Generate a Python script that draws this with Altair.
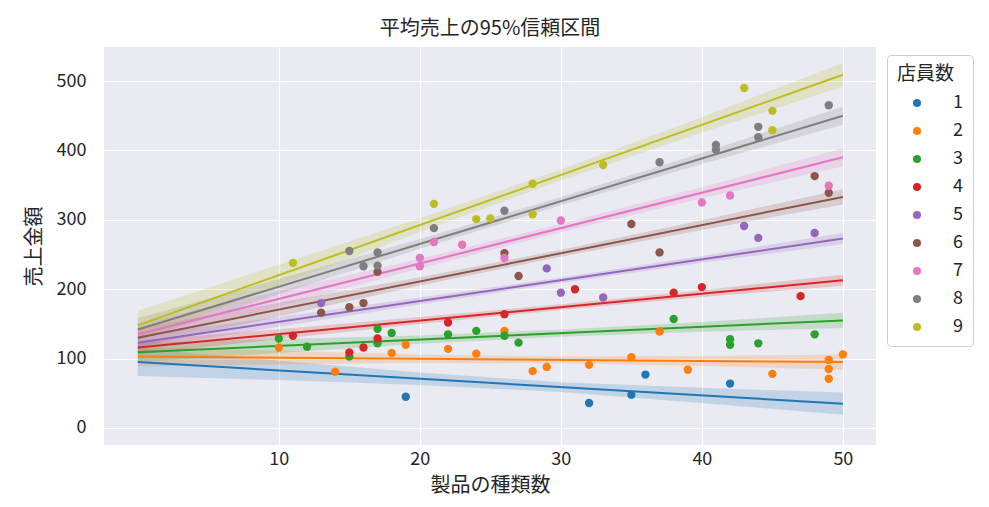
import altair as alt
import pandas as pd

FONT = "Noto Sans CJK JP"
TEXT = "#262626"

staff = [1, 2, 3, 4, 5, 6, 7, 8, 9]
colors = ["#1f77b4", "#ff7f0e", "#2ca02c", "#d62728", "#9467bd",
          "#8c564b", "#e377c2", "#7f7f7f", "#bcbd22"]

# scatter points (product kinds, sales) per staff count
x_by_staff = [
    [19, 32, 35, 36, 42],
    [10, 14, 18, 19, 22, 24, 26, 28, 29, 32, 35, 37, 39, 45, 49, 49, 49, 50],
    [10, 12, 15, 17, 17, 18, 22, 24, 26, 27, 38, 42, 42, 44, 48],
    [11, 15, 16, 17, 22, 26, 31, 38, 40, 47],
    [13, 29, 30, 33, 43, 44, 48],
    [13, 15, 16, 17, 26, 27, 35, 37, 48, 49],
    [20, 20, 21, 23, 26, 30, 40, 42, 49],
    [15, 16, 17, 17, 21, 26, 37, 41, 41, 44, 44, 49],
    [11, 21, 24, 25, 28, 28, 33, 43, 45, 45],
]
y_by_staff = [
    [45, 36, 48, 77, 64],
    [116, 81, 108, 120, 114, 107, 140, 82, 88, 91, 102, 139, 84, 78, 98, 85, 71, 106],
    [129, 117, 103, 143, 122, 137, 135, 140, 133, 123, 157, 128, 120, 122, 135],
    [133, 109, 116, 129, 152, 164, 200, 195, 203, 190],
    [180, 230, 195, 188, 291, 274, 281],
    [166, 174, 180, 225, 252, 219, 294, 253, 363, 339],
    [245, 233, 268, 264, 245, 299, 325, 335, 349],
    [255, 233, 253, 234, 288, 313, 383, 408, 401, 434, 419, 465],
    [238, 323, 301, 302, 352, 308, 379, 490, 457, 429],
]

# fitted line read at x=0 and x=50
line_x = [0, 50]
line_at_0 = [95, 103, 109, 116, 123, 130, 135, 142, 148]
line_at_50 = [35, 95, 155, 213, 273, 333, 390, 450, 509]

# 95% CI half-width read at these x positions
band_x = [0, 10, 20, 30, 40, 50]
band_half = [
    [20, 14, 9, 7, 11, 16],
    [14, 10, 6, 5, 7, 11],
    [14, 10, 6, 5, 7, 11],
    [10, 7, 5, 4, 5, 8],
    [10, 7, 5, 4, 5, 8],
    [14, 10, 6, 5, 7, 11],
    [16, 11, 7, 6, 8, 13],
    [16, 11, 7, 6, 8, 13],
    [21, 15, 10, 8, 11, 17],
]

x_ticks = [10, 20, 30, 40, 50]
y_ticks = [0, 100, 200, 300, 400, 500]

pts = []
for s, xs_, ys_ in zip(staff, x_by_staff, y_by_staff):
    for xv, yv in zip(xs_, ys_):
        pts.append({"staff": str(s), "x": xv, "y": yv})
pts = pd.DataFrame(pts)

lines = []
bands = []
for i, s in enumerate(staff):
    a, b = line_at_0[i], line_at_50[i]
    lines.append({"staff": str(s), "x": line_x[0], "y": a})
    lines.append({"staff": str(s), "x": line_x[1], "y": b})
    for bx, h in zip(band_x, band_half[i]):
        c = a + (b - a) * bx / 50
        bands.append({"staff": str(s), "x": bx, "lo": c - h, "hi": c + h})
lines = pd.DataFrame(lines)
bands = pd.DataFrame(bands)

xs = alt.Scale(domain=[-2.4, 52.35], nice=False, zero=False)
ys = alt.Scale(domain=[-24.5, 549], nice=False, zero=False)
cs = alt.Scale(domain=[str(s) for s in staff], range=colors)

x_axis = alt.Axis(values=x_ticks, title="製品の種類数", labelPadding=5, titlePadding=7)
y_axis = alt.Axis(values=y_ticks, title="売上金額", labelPadding=18, titlePadding=12)

band = alt.Chart(bands).mark_area(opacity=0.2).encode(
    x=alt.X("x:Q", scale=xs, axis=x_axis),
    y=alt.Y("lo:Q", scale=ys, axis=y_axis),
    y2="hi:Q",
    color=alt.Color("staff:N", scale=cs, legend=None),
    detail="staff:N",
)

line = alt.Chart(lines).mark_line(strokeWidth=2).encode(
    x=alt.X("x:Q", scale=xs),
    y=alt.Y("y:Q", scale=ys),
    color=alt.Color("staff:N", scale=cs, legend=None),
    detail="staff:N",
)

points = alt.Chart(pts).mark_circle(size=70, opacity=1).encode(
    x=alt.X("x:Q", scale=xs),
    y=alt.Y("y:Q", scale=ys),
    color=alt.Color(
        "staff:N", scale=cs,
        legend=alt.Legend(
            title="店員数", orient="none", legendX=783, legendY=8,
            fillColor="rgba(255,255,255,0.8)", strokeColor="#cccccc",
            cornerRadius=4, padding=10, symbolOffset=11, labelOffset=27,
            labelExpr="datum.label + '  '",
            symbolSize=65, symbolType="circle", rowPadding=10,
            titleFontSize=19, labelFontSize=18, titleFontWeight="normal",
            titleColor=TEXT, labelColor=TEXT, titlePadding=10,
            titleFont=FONT, labelFont=FONT,
        ),
    ),
)

chart = (
    alt.layer(band, line, points)
    .resolve_legend(color="independent")
    .properties(
        width=772, height=398,
        title=alt.Title("平均売上の95%信頼区間", fontSize=20, fontWeight="normal",
                        color=TEXT, font=FONT, offset=8, anchor="middle", frame="group"),
        autosize=alt.AutoSizeParams(type="none"),
        padding={"left": 96, "top": 39, "right": 104, "bottom": 54},
    )
    .configure_view(fill="#EAEAF2", strokeWidth=0)
    .configure_axis(
        grid=True, gridColor="white", gridWidth=1.2, domain=False, ticks=False,
        labelFontSize=18, labelColor=TEXT, labelFont=FONT,
        titleFontSize=20, titleColor=TEXT, titleFont=FONT, titleFontWeight="normal",
    )
)

chart.save("out.html", embed_options={"renderer": "svg", "actions": False})
